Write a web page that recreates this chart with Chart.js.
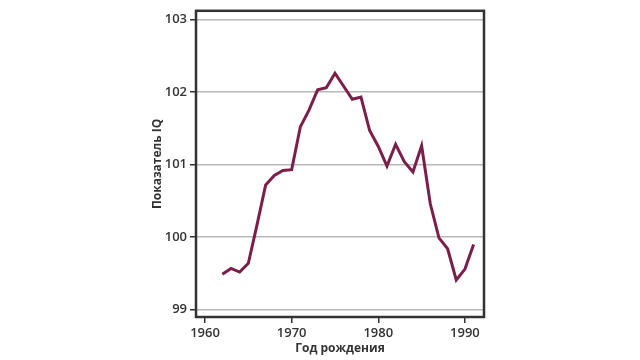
<!DOCTYPE html>
<html>
<head>
<meta charset="utf-8">
<script src="https://cdn.jsdelivr.net/npm/chart.js@4"></script>
<style>
html,body{margin:0;padding:0;background:#fff;}
#wrap{width:640px;height:360px;position:relative;}
</style>
</head>
<body>
<div id="wrap"><canvas id="c" width="640" height="360"></canvas></div>
<script>
const years = [1962,1963,1964,1965,1966,1967,1968,1969,1970,1971,1972,1973,1974,1975,1976,1977,1978,1979,1980,1981,1982,1983,1984,1985,1986,1987,1988,1989,1990,1991];
const iq = [99.49,99.57,99.52,99.64,100.17,100.72,100.85,100.92,100.93,101.52,101.75,102.03,102.06,102.26,102.08,101.90,101.93,101.47,101.25,100.98,101.28,101.04,100.90,101.26,100.46,99.99,99.84,99.41,99.56,99.90];
const xTicks = [1960,1970,1980,1990];
const yTicks = [99,100,101,102,103];
const xTitle = 'Год рождения';
const yTitle = 'Показатель IQ';

const boxPlugin = {
  id:'box',
  afterDraw(chart){
    const {ctx, chartArea:a} = chart;
    ctx.save();
    ctx.strokeStyle = '#333';
    ctx.lineWidth = 2.5;
    ctx.strokeRect(a.left, a.top, a.right - a.left, a.bottom - a.top);
    ctx.restore();
  }
};

const font = {family:"'Open Sans', sans-serif", size:13, weight:'600'};
new Chart(document.getElementById('c'), {
  type:'line',
  data:{datasets:[{
    data: years.map((y,i)=>({x:y, y:iq[i]})),
    borderColor:'#7b1f4a',
    borderWidth:3,
    pointRadius:0,
    tension:0,
    fill:false
  }]},
  options:{
    responsive:false,
    animation:false,
    plugins:{legend:{display:false}, tooltip:{enabled:false}},
    layout:{padding:{left:150, top:10, right:156, bottom:0}},
    scales:{
      x:{
        type:'linear', min:1958.96, max:1992.2,
        afterBuildTicks(s){ s.ticks = xTicks.map(v=>({value:v})); },
        afterFit(s){ s.height = 43; },
        grid:{color:'transparent', tickColor:'#333', tickLength:6, lineWidth:1.5},
        border:{display:false},
        ticks:{color:'#333', font, padding:2, maxRotation:0, callback:v=>String(v)},
        title:{display:true, text:xTitle, color:'#333', font:{family:"'Open Sans', sans-serif", size:12, weight:'700'}, padding:{top:0,bottom:4}}
      },
      y:{
        min:98.9, max:103.12,
        afterBuildTicks(s){ s.ticks = yTicks.map(v=>({value:v})); },
        afterFit(s){ s.width = 46; },
        grid:{color:'#b8b8b8', tickColor:'#333', tickLength:6, lineWidth:1.5},
        border:{display:false},
        ticks:{color:'#333', font, padding:3, callback:v=>String(v)},
        title:{display:true, text:yTitle, color:'#333', font:{family:"'Open Sans', sans-serif", size:12, weight:'700'}, padding:{top:0,bottom:0}}
      }
    }
  },
  plugins:[boxPlugin]
});
</script>
</body>
</html>
